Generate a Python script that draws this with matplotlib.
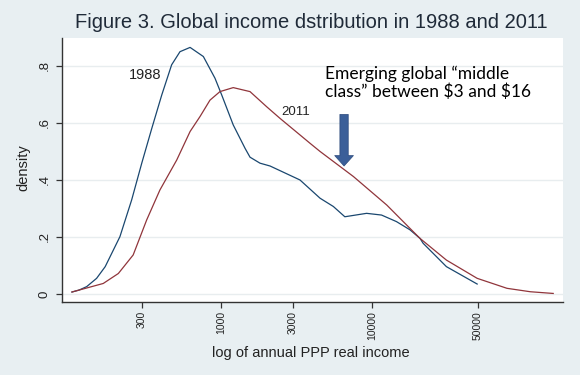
import matplotlib
matplotlib.use("Agg")
import matplotlib.pyplot as plt
from matplotlib.ticker import FixedLocator, NullLocator

# annual PPP real income (dollars) and kernel density
income_1988 = [103, 115, 129, 150, 171, 214, 256, 299, 348, 405, 471, 535,
               624, 764, 912, 1011, 1205, 1443, 1556, 1811, 2113, 3334, 4529,
               5546, 6607, 9204, 11560, 14520, 17860, 20800, 21800, 31100,
               49700]
density_1988 = [0.007, 0.014, 0.026, 0.055, 0.096, 0.201, 0.33, 0.46, 0.581,
                0.698, 0.804, 0.85, 0.865, 0.833, 0.757, 0.698, 0.593, 0.511,
                0.48, 0.459, 0.449, 0.40, 0.336, 0.307, 0.271, 0.283, 0.277,
                0.254, 0.225, 0.195, 0.178, 0.096, 0.035]

income_2011 = [103, 166, 209, 262, 322, 394, 509, 624, 727, 845, 984, 1205,
               1556, 2005, 2460, 3334, 3880, 4529, 7534, 12530, 17860, 20800,
               31100, 49700, 78300, 111700, 158500]
density_2011 = [0.007, 0.037, 0.072, 0.137, 0.26, 0.365, 0.47, 0.57, 0.623,
                0.68, 0.71, 0.724, 0.71, 0.657, 0.616, 0.558, 0.529, 0.50,
                0.412, 0.312, 0.23, 0.195, 0.119, 0.055, 0.02, 0.008, 0.002]

x_ticks = [300, 1000, 3000, 10000, 50000]
x_tick_labels = ["300", "1000", "3000", "10000", "50000"]
y_ticks = [0, 0.2, 0.4, 0.6, 0.8]
y_tick_labels = ["0", ".2", ".4", ".6", ".8"]

bg = "#e8eff2"
c1988 = "#1a476f"
c2011 = "#90353b"
txt = "#222222"
font = "Liberation Sans"

fig = plt.figure(figsize=(5.8, 3.75), dpi=100, facecolor=bg)
ax = fig.add_axes([62 / 580, 73 / 375, 501 / 580, 264 / 375])
ax.set_facecolor("white")

ax.plot(income_1988, density_1988, color=c1988, lw=0.9)
ax.plot(income_2011, density_2011, color=c2011, lw=0.9)

ax.set_xscale("log")
ax.set_xlim(88.5, 184000)
ax.set_ylim(-0.028, 0.898)

ax.xaxis.set_major_locator(FixedLocator(x_ticks))
ax.xaxis.set_minor_locator(NullLocator())
ax.set_xticklabels(x_tick_labels, rotation=90, fontsize=7.5,
                   family=font, color=txt)
ax.set_yticks(y_ticks)
ax.set_yticklabels(y_tick_labels, rotation=90, fontsize=9.5, va="center",
                   family=font, color=txt)
ax.tick_params(axis="both", length=4, width=0.9, color="#333333")
ax.tick_params(axis="x", pad=2.5)
ax.tick_params(axis="y", pad=4)

ax.yaxis.grid(True, color="#e8edef", lw=1.0)
ax.set_axisbelow(True)
for s in ["top", "right"]:
    ax.spines[s].set_visible(False)
for s in ["left", "bottom"]:
    ax.spines[s].set_color("#333333")
    ax.spines[s].set_linewidth(1.0)

ax.set_xlabel("log of annual PPP real income", fontsize=10.5,
              family=font, color=txt)
ax.xaxis.set_label_coords(0.497, -0.165)
ax.set_ylabel("density", fontsize=10.5, family=font, color=txt)
ax.yaxis.set_label_coords(-0.064, 0.51)

ax.text(314, 0.768, "1988", fontsize=10.5, family=font,
        ha="center", va="center", color=txt)
ax.text(3140, 0.637, "2011", fontsize=9.5, family=font,
        ha="center", va="center", color=txt)

fig.text(311 / 580, 1 - 22 / 375,
         "Figure 3. Global income dstribution in 1988 and 2011",
         fontsize=14.5, family=font, color="#1f2a38",
         ha="center", va="center")

ax.text(4890, 0.74, "Emerging global \u201cmiddle\nclass\u201d between \\$3 and \\$16",
        fontsize=12.5, family="Lato", color="black", ha="left", va="center",
        linespacing=1.15)

ax.annotate("", xy=(6530, 0.449), xytext=(6530, 0.63),
            arrowprops=dict(arrowstyle="simple,head_length=0.75,head_width=1.35,tail_width=0.6",
                            mutation_scale=10, facecolor="#3b5f99",
                            edgecolor="#2c4a7c", lw=0.5,
                            shrinkA=0, shrinkB=0))

fig.savefig("out.png", dpi=100, facecolor=bg)
